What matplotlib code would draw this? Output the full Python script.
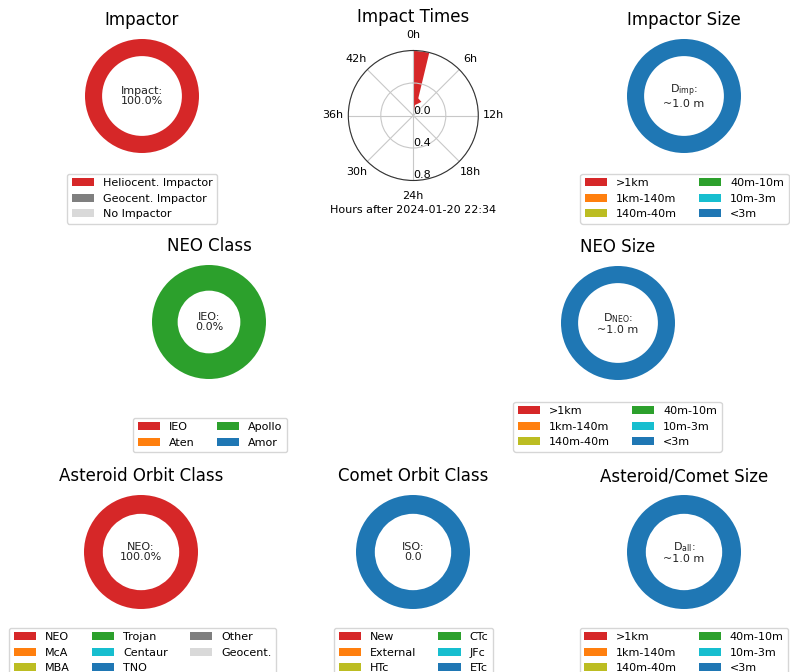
import numpy as np
import matplotlib.pyplot as plt

W, H = 790, 672

# colours used throughout
red, orange, olive, green = "#d62728", "#ff7f0e", "#bcbd22", "#2ca02c"
cyan, blue, grey, lgrey = "#17becf", "#1f77b4", "#7f7f7f", "#d9d9d9"

# --- data ---
impactor_labels = ["Heliocent. Impactor", "Geocent. Impactor", "No Impactor"]
impactor_colors = [red, grey, lgrey]
impactor_values = [1.0, 0.0, 0.0]

size_labels = [">1km", "1km-140m", "140m-40m", "40m-10m", "10m-3m", "<3m"]
size_colors = [red, orange, olive, green, cyan, blue]
impactor_size_values = [0, 0, 0, 0, 0, 1.0]
neo_size_values = [0, 0, 0, 0, 0, 1.0]
all_size_values = [0, 0, 0, 0, 0, 1.0]

neo_class_labels = ["IEO", "Aten", "Apollo", "Amor"]
neo_class_colors = [red, orange, green, blue]
neo_class_values = [0, 0, 1.0, 0]

ast_labels = ["NEO", "McA", "MBA", "Trojan", "Centaur", "TNO", "Other", "Geocent."]
ast_colors = [red, orange, olive, green, cyan, blue, grey, lgrey]
ast_values = [1.0, 0, 0, 0, 0, 0, 0, 0]

comet_labels = ["New", "External", "HTc", "CTc", "JFc", "ETc"]
comet_colors = [red, orange, olive, green, cyan, blue]
comet_values = [0, 0, 0, 0, 0, 1.0]

# impact time distribution outline (hours, density)
impact_hours = [0, 0, 1.9, 2.15, 4.1, 1.2, 0]
impact_dens = [0, 0.8, 0.8, 0.22, 0.195, 0.13, 0]
hour_ticks = [0, 6, 12, 18, 24, 30, 36, 42]
r_ticks = [0.0, 0.4, 0.8]

fig = plt.figure(figsize=(W / 100, H / 100), dpi=100)


def place(cx, cy, half, **kw):
    return fig.add_axes([(cx - half) / W, 1 - (cy + half) / H,
                         2 * half / W, 2 * half / H], **kw)


def donut(cx, cy, title, values, labels, colors, text, ring,
          lx, ltop, ncol):
    ax = place(cx, cy, 57)
    wedges, _ = ax.pie(values, colors=colors, startangle=90,
                       wedgeprops=dict(width=ring))
    ax.set_xlim(-1, 1)
    ax.set_ylim(-1, 1)
    ax.set_title(title, fontsize=12, pad=10)
    ax.text(0, 0, text, ha="center", va="center", fontsize=8,
            linespacing=1.05, color="#222222")
    ax.legend(wedges, labels, loc="upper center", ncol=ncol, fontsize=8,
              bbox_to_anchor=(lx / W, 1 - ltop / H),
              bbox_transform=fig.transFigure)
    return ax


donut(142, 96, "Impactor", impactor_values, impactor_labels,
      impactor_colors, "Impact:\n100.0%", 0.3, 142, 168, 1)
donut(684, 96, "Impactor Size", impactor_size_values, size_labels,
      size_colors, "D$_{\\rm imp}$:\n~1.0 m", 0.3, 684.5, 168, 2)
donut(209, 322, "NEO Class", neo_class_values, neo_class_labels,
      neo_class_colors, "IEO:\n0.0%", 0.45, 210, 412, 2)
donut(618, 323, "NEO Size", neo_size_values, size_labels,
      size_colors, "D$_{\\rm NEO}$:\n~1.0 m", 0.3, 617.5, 396, 2)
donut(141, 552, "Asteroid Orbit Class", ast_values, ast_labels,
      ast_colors, "NEO:\n100.0%", 0.33, 142.5, 622, 3)
donut(413, 552, "Comet Orbit Class", comet_values, comet_labels,
      comet_colors, "ISO:\n0.0", 0.33, 413.5, 622, 2)
donut(684, 552, "Asteroid/Comet Size", all_size_values, size_labels,
      size_colors, "D$_{\\rm all}$:\n~1.0 m", 0.33, 684, 622, 2)

# --- impact times (polar) ---
ax = place(413.3, 115.5, 65, projection="polar")
ax.set_theta_zero_location("N")
ax.set_theta_direction(-1)
theta = np.array(impact_hours) / 48 * 2 * np.pi
ax.fill(theta, impact_dens, color=red, lw=0)
ax.set_xticks(np.array(hour_ticks) / 48 * 2 * np.pi)
ax.set_xticklabels([f"{h}h" for h in hour_ticks], fontsize=8)
ax.tick_params(axis="x", pad=0.5)
ax.set_ylim(0, 0.8)
ax.set_yticks(r_ticks)
ax.set_yticklabels([f"{r:.1f}" for r in r_ticks], fontsize=8,
                   ha="left", va="bottom")
ax.set_rlabel_position(180)
ax.grid(color="#c8c8c8", lw=0.8)
ax.spines["polar"].set_color("#333333")
ax.set_title("Impact Times", fontsize=12)
ax.set_xlabel("Hours after 2024-01-20 22:34", fontsize=8, labelpad=3)

fig.savefig("out.png", dpi=100)
